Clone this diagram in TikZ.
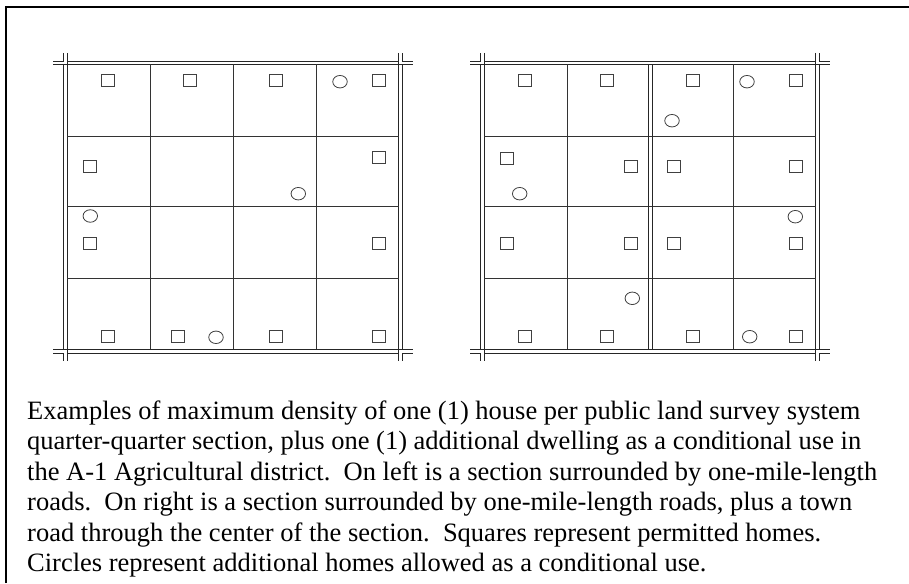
\documentclass[tikz,border=0pt]{standalone}
\usepackage{fontspec}
\setmainfont{Liberation Serif}
\usetikzlibrary{shapes.geometric}
\newcommand\myroads{%
  \draw[road] (67.3,61) -- (398.7,61);
  \draw[road] (67.3,353) -- (398.7,353);
  \draw[road] (63.3,64.3) -- (63.3,349.3);
  \draw[road] (402.3,64.3) -- (402.3,349.3);
  \draw[road] (53,64.3) -- (412.5,64.3);
  \draw[road] (53,349.3) -- (412.5,349.3);
  \draw[road] (67.3,53) -- (67.3,361);
  \draw[road] (398.7,53) -- (398.7,361);
  \draw[road] (53,61) -- (63.3,61) -- (63.3,53);
  \draw[road] (412.5,61) -- (402.3,61) -- (402.3,53);
  \draw[road] (53,353) -- (63.3,353) -- (63.3,361);
  \draw[road] (412.5,353) -- (402.3,353) -- (402.3,361);
  \foreach \yy in {136,206.3,278.3} \draw[cell] (67.3,\yy) -- (398.7,\yy);
}
\begin{document}
\begin{tikzpicture}[x=1pt,y=-1pt,
  road/.style={line width=0.9pt, black!85},
  cell/.style={line width=0.9pt, black!80},
  house/.style={draw=black!75, line width=0.9pt, minimum width=13pt, minimum height=12pt, inner sep=0pt, outer sep=0pt},
  extra/.style={ellipse, draw=black!75, line width=0.8pt, minimum width=14.5pt, minimum height=12.5pt, inner sep=0pt, outer sep=0pt},
  caption/.style={anchor=base west, inner sep=0pt, font=\fontsize{26.5}{30}\selectfont}]
\useasboundingbox (0,0) rectangle (909,583);
\draw[line width=1.8pt] (5.8,583) -- (5.8,7) -- (909,7);
% left section
\begin{scope}
  \myroads
  \foreach \xx in {150,233,316} \draw[cell] (\xx,64.3) -- (\xx,349.3);
\end{scope}
% right section
\begin{scope}[xshift=417pt]
  \myroads
  \foreach \xx in {150,316} \draw[cell] (\xx,64.3) -- (\xx,349.3);
  \draw[road] (231.3,64.3) -- (231.3,349.3);
  \draw[road] (235,64.3) -- (235,349.3);
\end{scope}
% permitted homes
\foreach \p [count=\i] in {(107.7,80.7),(190,80.7),(276,80.7),(379,80.7),(90,166.7),(379,157.3),(90,243.3),(379,243.3),(107.7,336.7),(178.3,336.7),(276,336.7),(379,336.7),
  (524.7,80.7),(607,80.7),(693,80.7),(796,80.7),(507,158.3),(631,166.7),(674.3,166.7),(796,166.7),(507,243.3),(631,243.3),(674.3,243.3),(796,243.3),(524.7,336.7),(607,336.7),(693,336.7),(796,336.7)}
  \node[house] (sq\i) at \p {};
% conditional homes
\foreach \p [count=\i] in {(340,81.7),(298.3,193.7),(90.3,216),(216,337.3),
  (747,81.7),(672,120.7),(519.7,193.7),(795.3,216.7),(632.3,298.3),(749.7,336.7)}
  \node[extra] (ci\i) at \p {};
% caption
\node[caption] (t1) at (27,419.5) {Examples of maximum density of one (1) house per public land survey system};
\node[caption] (t2) at (27,449.9) {quarter-quarter section, plus one (1) additional dwelling as a conditional use in};
\node[caption] (t3) at (27,480.3) {the A-1 Agricultural district.\ \ On left is a section surrounded by one-mile-length};
\node[caption] (t4) at (27,510.7) {roads.\ \ On right is a section surrounded by one-mile-length roads, plus a town};
\node[caption] (t5) at (27,541.1) {road through the center of the section.\ \ Squares represent permitted homes.};
\node[caption] (t6) at (27,571.5) {Circles represent additional homes allowed as a conditional use.};
\end{tikzpicture}
\end{document}
